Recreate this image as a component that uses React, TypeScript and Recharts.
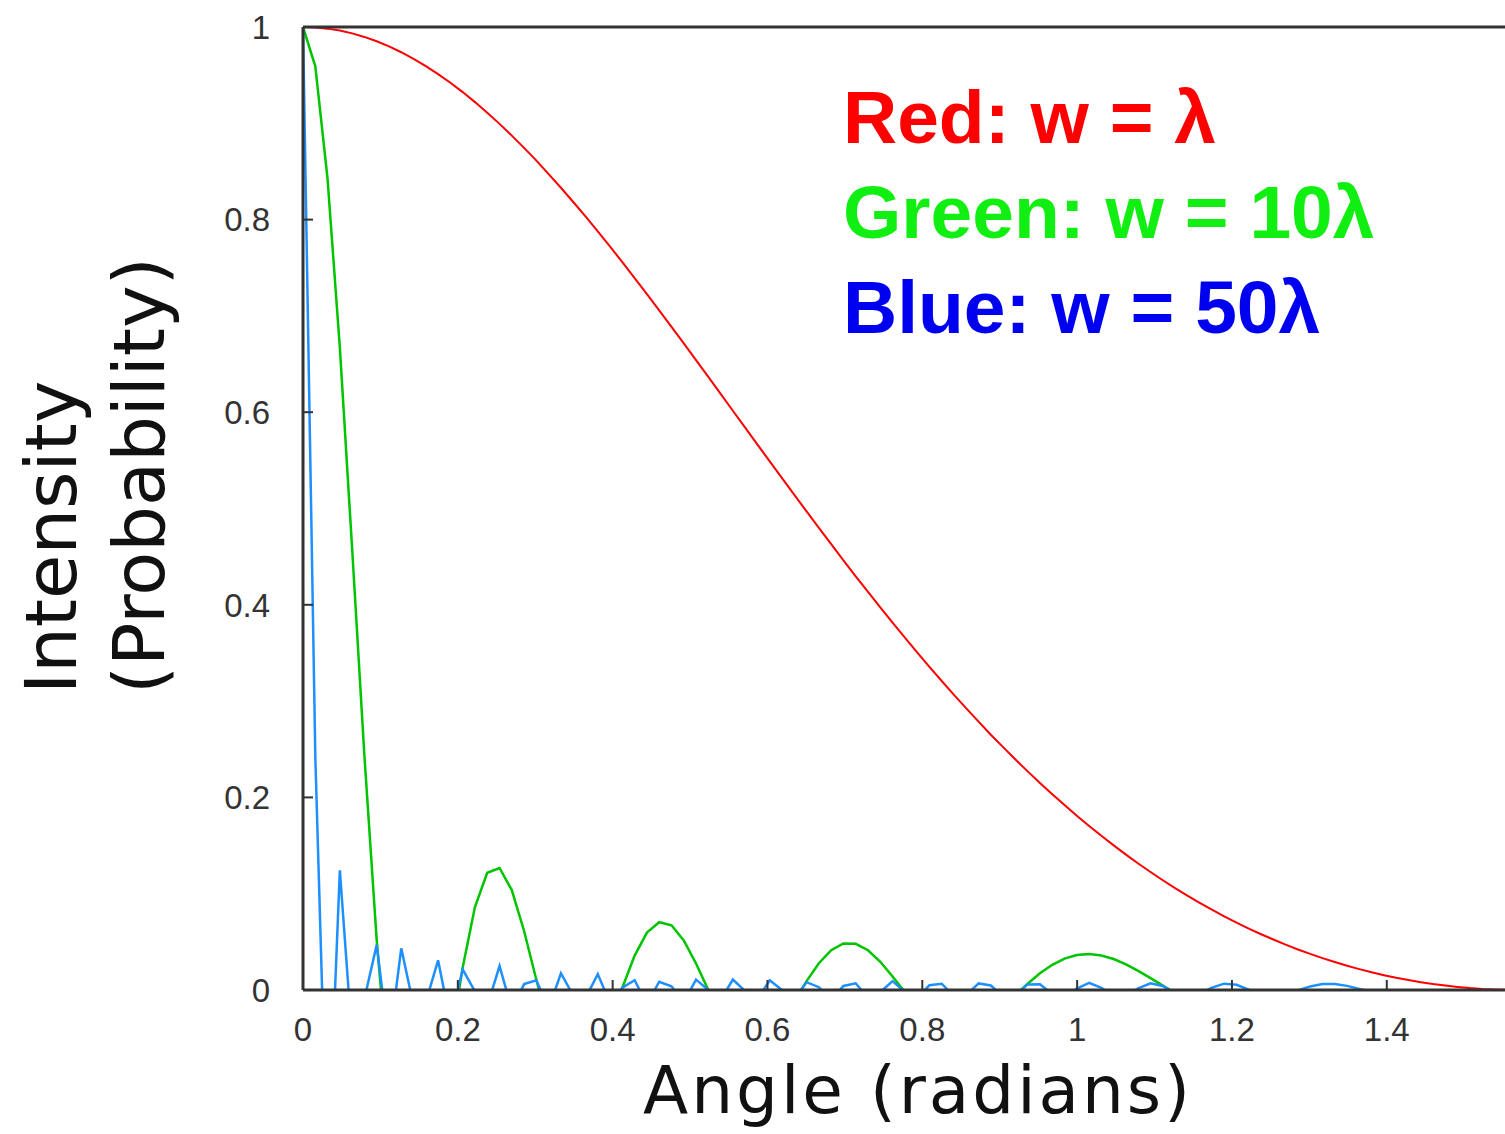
import { LineChart, Line, XAxis, YAxis } from "recharts";

// angle samples (radians), 100 points from 0 to pi/2
const angles = [
  0, 0.0159, 0.0317, 0.0476, 0.0635, 0.0793, 0.0952, 0.1111, 0.1269, 0.1428,
  0.1587, 0.1745, 0.1904, 0.2063, 0.2221, 0.238, 0.2539, 0.2697, 0.2856, 0.3015,
  0.3173, 0.3332, 0.3491, 0.3649, 0.3808, 0.3967, 0.4125, 0.4284, 0.4443, 0.4601,
  0.476, 0.4919, 0.5077, 0.5236, 0.5395, 0.5553, 0.5712, 0.5871, 0.6029, 0.6188,
  0.6347, 0.6505, 0.6664, 0.6823, 0.6981, 0.714, 0.7299, 0.7457, 0.7616, 0.7775,
  0.7933, 0.8092, 0.8251, 0.8409, 0.8568, 0.8727, 0.8885, 0.9044, 0.9203, 0.9361,
  0.952, 0.9679, 0.9837, 0.9996, 1.0155, 1.0313, 1.0472, 1.0631, 1.0789, 1.0948,
  1.1107, 1.1265, 1.1424, 1.1583, 1.1741, 1.19, 1.2059, 1.2217, 1.2376, 1.2535,
  1.2693, 1.2852, 1.3011, 1.3169, 1.3328, 1.3487, 1.3645, 1.3804, 1.3963, 1.4121,
  1.428, 1.4439, 1.4597, 1.4756, 1.4915, 1.5073, 1.5232, 1.5391, 1.5549, 1.5708,
];

// w = lambda
const redIntensity = [
  1, 0.9996, 0.9983, 0.9963, 0.9934, 0.9897, 0.9852, 0.9799, 0.9738, 0.967,
  0.9594, 0.9511, 0.9421, 0.9324, 0.922, 0.911, 0.8994, 0.8872, 0.8745, 0.8612,
  0.8473, 0.8331, 0.8183, 0.8033, 0.7878, 0.7719, 0.7558, 0.7393, 0.7227, 0.7058,
  0.6887, 0.6714, 0.6541, 0.6366, 0.6191, 0.6015, 0.584, 0.5664, 0.5489, 0.5315,
  0.5142, 0.497, 0.4799, 0.463, 0.4462, 0.4296, 0.4134, 0.3973, 0.3815, 0.3659,
  0.3505, 0.3355, 0.3209, 0.3064, 0.2924, 0.2787, 0.2651, 0.2522, 0.2394, 0.227,
  0.215, 0.2033, 0.192, 0.181, 0.1704, 0.1601, 0.1502, 0.1406, 0.1314, 0.1225,
  0.114, 0.1058, 0.098, 0.0905, 0.0834, 0.0765, 0.07, 0.0638, 0.0579, 0.0524,
  0.0471, 0.0421, 0.0375, 0.0331, 0.029, 0.0252, 0.0217, 0.0184, 0.0154, 0.0127,
  0.0103, 0.0081, 0.0062, 0.0046, 0.0032, 0.002, 0.0011, 0.0005, 0.0001, 0,
];

// w = 10 lambda (dips below 0 are cut off by the axis)
const greenIntensity = [
  1, 0.9592, 0.8425, 0.667, 0.4579, 0.2437, 0.0518, -0.0959, -0.1865, -0.2172,
  -0.1951, -0.135, -0.0557, 0.0234, 0.0861, 0.1217, 0.1267, 0.1038, 0.0613, 0.0104,
  -0.0377, -0.0731, -0.0902, -0.0871, -0.0666, -0.0343, 0.0023, 0.0357, 0.0596, 0.0704,
  0.0672, 0.0515, 0.0275, 0, -0.0258, -0.0456, -0.0564, -0.057, -0.0483, -0.0322,
  -0.0119, 0.0092, 0.0278, 0.0413, 0.0483, 0.048, 0.0413, 0.0293, 0.0141, -0.0021,
  -0.0173, -0.0298, -0.0384, -0.0422, -0.0414, -0.0364, -0.0279, -0.0172, -0.0053, 0.0065,
  0.0173, 0.0262, 0.0326, 0.0364, 0.0375, 0.0359, 0.0322, 0.0267, 0.0199, 0.0123,
  0.0045, -0.0032, -0.0104, -0.0168, -0.0223, -0.0267, -0.0299, -0.0321, -0.0333, -0.0335,
  -0.0329, -0.0317, -0.03, -0.0278, -0.0254, -0.0228, -0.0201, -0.0174, -0.0148, -0.0124,
  -0.0101, -0.008, -0.0062, -0.0045, -0.0031, -0.002, -0.0011, -0.0005, -0.0001, 0,
];

// w = 50 lambda
const blueIntensity = [
  1, 0.2426, -0.1933, 0.1243, -0.0514, -0.0094, 0.0469, -0.0569, 0.0433, -0.0159,
  -0.0124, 0.0308, -0.0334, 0.0213, -0.0014, -0.0167, 0.0249, -0.0203, 0.0061, 0.01,
  -0.0194, 0.0174, -0.0058, -0.0084, 0.0165, -0.0138, 0.0023, 0.0101, -0.0148, 0.0086,
  0.0038, -0.0126, 0.0108, 0, -0.0104, 0.0109, -0.0012, -0.0094, 0.0101, -0.0001,
  -0.0096, 0.0081, 0.0029, -0.0101, 0.0042, 0.007, -0.0083, -0.0022, 0.0092, -0.0021,
  -0.0081, 0.0049, 0.0065, -0.0063, -0.0052, 0.0068, 0.0047, -0.0066, -0.0049, 0.0058,
  0.0059, -0.0042, -0.007, 0.0015, 0.0075, 0.0023, -0.006, -0.006, 0.0016, 0.007,
  0.0042, -0.0031, -0.007, -0.004, 0.0025, 0.0066, 0.0054, 0.0003, -0.0048, -0.0067,
  -0.0048, -0.0005, 0.0037, 0.0062, 0.0063, 0.0043, 0.0012, -0.0019, -0.0044, -0.0059,
  -0.0064, -0.0061, -0.0053, -0.0042, -0.003, -0.002, -0.0011, -0.0005, -0.0001, 0,
];

const xTicks = [0, 0.2, 0.4, 0.6, 0.8, 1, 1.2, 1.4];
const yTicks = [0, 0.2, 0.4, 0.6, 0.8, 1];
const xMax = 1.5708;

const legendLines = [
  { text: "Red: w = λ", color: "#ff0000" },
  { text: "Green: w = 10λ", color: "#11ee11" },
  { text: "Blue: w = 50λ", color: "#0000f0" },
];

const rows = angles.map((x, i) => ({
  x,
  red: redIntensity[i],
  green: greenIntensity[i],
  blue: blueIntensity[i],
}));

const axisStroke = { stroke: "#333", strokeWidth: 3 };
const tickStroke = { stroke: "#333", strokeWidth: 2 };
const tickFont = { fill: "#333", fontSize: 33, fontFamily: "Liberation Sans, Arial, sans-serif" };
const titleFont = "DejaVu Sans, sans-serif";

export default function App() {
  return (
    <div
      style={{
        position: "fixed",
        left: 0,
        top: 0,
        width: 1505,
        height: 1134,
        overflow: "hidden",
        background: "#fff",
      }}
    >
      <LineChart
        width={1525}
        height={1134}
        data={rows}
        margin={{ top: 0, right: 6, bottom: 0, left: 0 }}
      >
        <XAxis
          xAxisId="top"
          orientation="top"
          type="number"
          dataKey="x"
          domain={[0, xMax]}
          ticks={xTicks}
          tick={false}
          tickSize={-10}
          height={27}
          axisLine={axisStroke}
          tickLine={tickStroke}
          allowDataOverflow
        />
        <XAxis
          xAxisId="bottom"
          orientation="bottom"
          type="number"
          dataKey="x"
          domain={[0, xMax]}
          ticks={xTicks}
          tick={tickFont}
          tickSize={-10}
          tickMargin={38}
          height={144}
          axisLine={axisStroke}
          tickLine={tickStroke}
          allowDataOverflow
        />
        <YAxis
          type="number"
          domain={[0, 1]}
          ticks={yTicks}
          tick={tickFont}
          tickSize={-10}
          tickMargin={43}
          width={303}
          axisLine={axisStroke}
          tickLine={tickStroke}
          allowDataOverflow
        />
        <Line
          xAxisId="bottom"
          type="linear"
          dataKey="red"
          stroke="#ff0000"
          strokeWidth={2}
          dot={false}
          isAnimationActive={false}
        />
        <Line
          xAxisId="bottom"
          type="linear"
          dataKey="green"
          stroke="#00c400"
          strokeWidth={2.5}
          dot={false}
          isAnimationActive={false}
        />
        <Line
          xAxisId="bottom"
          type="linear"
          dataKey="blue"
          stroke="#1e8fff"
          strokeWidth={2.5}
          dot={false}
          isAnimationActive={false}
        />
      </LineChart>
      <svg
        width={1505}
        height={1134}
        style={{ position: "absolute", left: 0, top: 0, pointerEvents: "none" }}
      >
        <text
          x={918}
          y={1113}
          textAnchor="middle"
          fontFamily={titleFont}
          fontSize={66}
          letterSpacing={3}
          fill="#111"
        >
          Angle (radians)
        </text>
        <text transform="translate(76,694) rotate(-90)" fontFamily={titleFont} fontSize={72} fill="#111">
          Intensity
        </text>
        <text transform="translate(164,694) rotate(-90)" fontFamily={titleFont} fontSize={72} fill="#111">
          (Probability)
        </text>
        {legendLines.map((l, i) => (
          <text
            key={l.text}
            x={843}
            y={143 + i * 95}
            fontFamily="Liberation Sans, Arial, sans-serif"
            fontWeight="bold"
            fontSize={75}
            fill={l.color}
          >
            {l.text}
          </text>
        ))}
      </svg>
    </div>
  );
}
